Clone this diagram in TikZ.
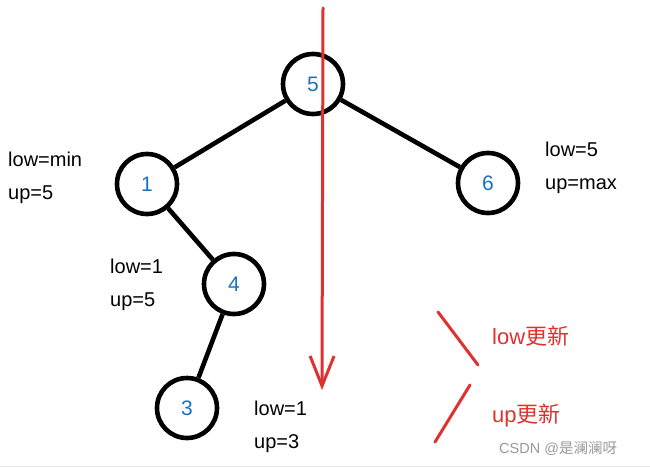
\documentclass[tikz,border=0pt]{standalone}
\usepackage{fontspec}
\setmainfont{Liberation Sans}
\newfontfamily\cjk{Noto Sans CJK SC}
\usetikzlibrary{arrows.meta}
\definecolor{nblue}{HTML}{1971C2}
\definecolor{ared}{HTML}{E03131}
\definecolor{wm}{HTML}{999999}
\begin{document}
\begin{tikzpicture}[x=1pt,y=-1pt,
  tn/.style={circle,draw=black,line width=4.6pt,minimum size=60pt,inner sep=0pt,text=nblue,font=\fontsize{21}{21}\selectfont},
  edge/.style={line width=4.6pt,black},
  lbl/.style={align=left,anchor=north west,inner sep=0pt,font=\fontsize{20}{33}\selectfont},
  rline/.style={ared,line width=3pt,line cap=round},
  rlbl/.style={anchor=west,inner sep=0pt,text=ared,font=\fontsize{22}{22}\selectfont}]
\useasboundingbox (0,0) rectangle (650,468);
\draw[line width=0.6pt,black!8] (0,466) -- (650,466);
\node[tn] (n5) at (313,84) {5};
\node[tn] (n1) at (147,184) {1};
\node[tn] (n6) at (488,183) {6};
\node[tn] (n4) at (234,284) {4};
\node[tn] (n3) at (187,408) {3};
\draw[edge] (n5) -- (n1);
\draw[edge] (n5) -- (n6);
\draw[edge] (n1) -- (n4);
\draw[edge] (n4) -- (n3);
\node[lbl] (l1) at (8,152) {low=min\\up=5};
\node[lbl] (l6) at (545,142) {low=5\\up=max};
\node[lbl] (l4) at (110,259) {low=1\\up=5};
\node[lbl] (l3) at (254,401) {low=1\\up=3};
\coordinate (rtop) at (323,8);
\coordinate (rbot) at (322,390);
\draw[rline,-{Straight Barb[length=30pt,width=24pt,line width=3pt]}] (rtop) -- (rbot);
\coordinate (a1) at (438,312);
\coordinate (a2) at (478,365);
\coordinate (b1) at (470,385);
\coordinate (b2) at (435,442);
\draw[rline] (a1) -- (a2);
\draw[rline] (b1) -- (b2);
\node[rlbl] (t1) at (492,336) {low{\cjk 更新}};
\node[rlbl] (t2) at (492,415) {up{\cjk 更新}};
\node[anchor=west,inner sep=0pt,text=wm,font=\fontsize{14.5}{14.5}\selectfont] (wmk) at (499,448) {CSDN @{\cjk 是澜澜呀}};
\end{tikzpicture}
\end{document}
